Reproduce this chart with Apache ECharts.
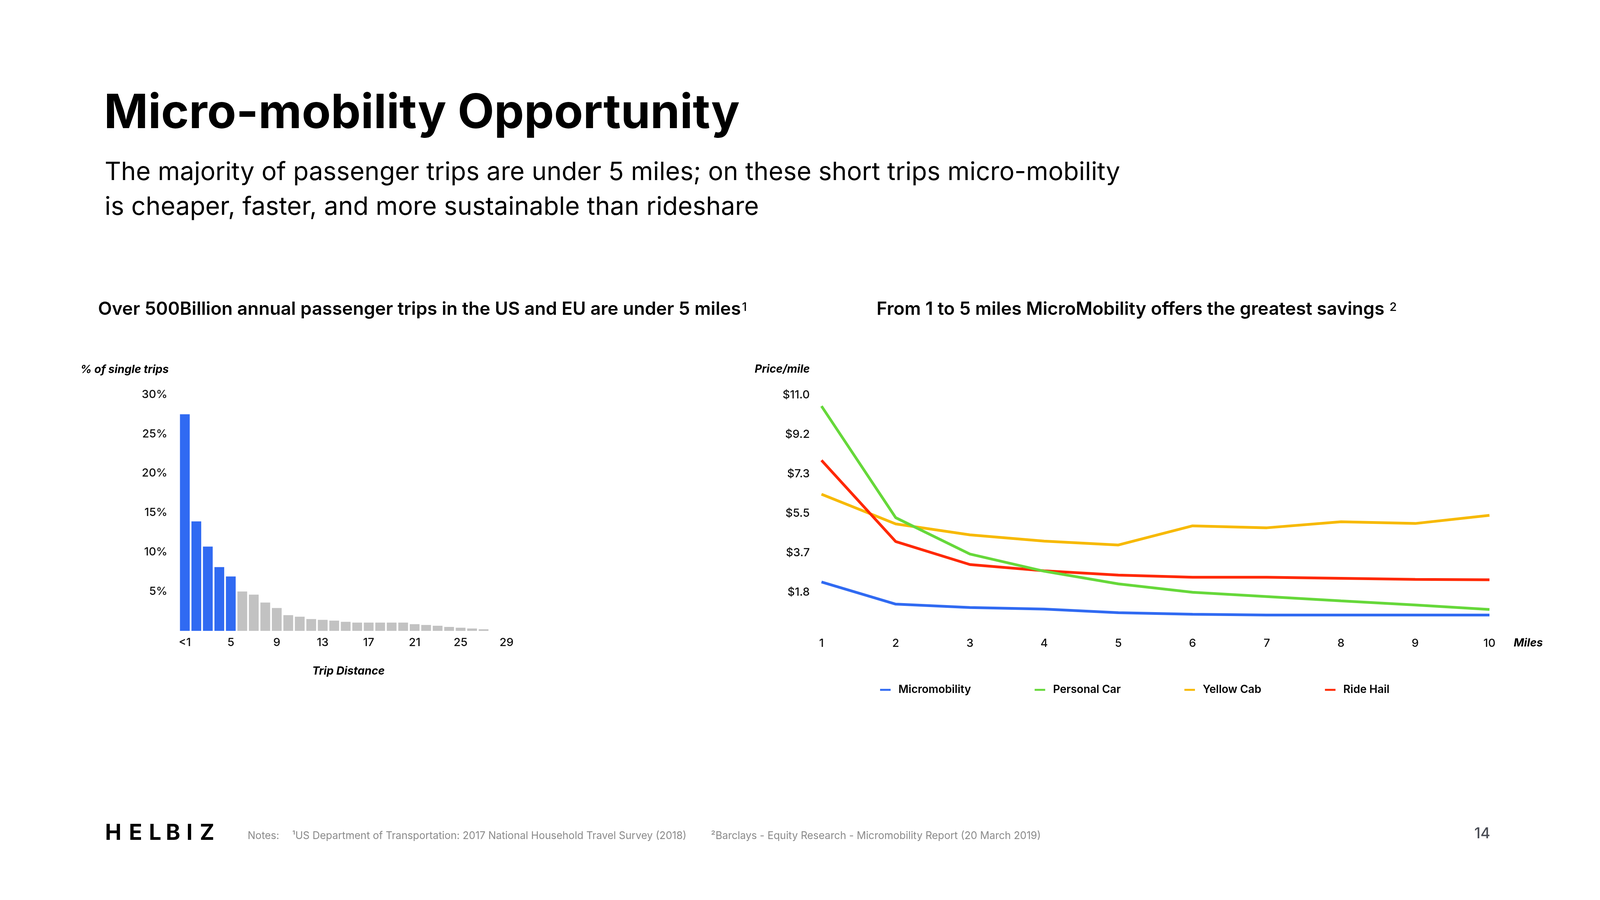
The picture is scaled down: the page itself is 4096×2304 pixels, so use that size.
<!DOCTYPE html>
<html><head><meta charset="utf-8">
<style>html,body{margin:0;padding:0;background:#fff}#c{width:4096px;height:2304px}</style>
<script src="https://cdn.jsdelivr.net/npm/echarts@6/dist/echarts.min.js"></script>
</head><body><div id="c"></div>
<script>
// ---------- data ----------
const tripCategories = ['<1','2','3','4','5','6','7','8','9','10','11','12','13','14','15','16','17','18','19','20','21','22','23','24','25','26','27','28','29'];
const tripShare = [27.5, 13.9, 10.7, 8.1, 6.9, 5.0, 4.6, 3.6, 2.9, 2.0, 1.8, 1.5, 1.4, 1.3, 1.15, 1.05, 1.05, 1.05, 1.05, 1.05, 0.85, 0.75, 0.65, 0.5, 0.4, 0.3, 0.2, null, null];
const highlightedTrips = 5; // first five categories (under 5 miles) in blue

const milesCategories = ['1','2','3','4','5','6','7','8','9','10'];
const micromobility = [2.31, 1.28, 1.12, 1.05, 0.88, 0.81, 0.77, 0.77, 0.77, 0.77];
const personalCar   = [10.49, 5.30, 3.61, 2.81, 2.22, 1.83, 1.63, 1.43, 1.24, 1.03];
const yellowCab     = [6.39, 5.01, 4.50, 4.21, 4.03, 4.92, 4.83, 5.11, 5.03, 5.41];
const rideHail      = [7.97, 4.19, 3.12, 2.83, 2.63, 2.53, 2.53, 2.48, 2.43, 2.41];
const seriesNames = ['Micromobility','Personal Car','Yellow Cab','Ride Hail'];

const pctAxisMax = 30, pctAxisInterval = 5;
const priceAxisMax = 11, priceAxisInterval = 11/6;

const titleText = 'Micro-mobility Opportunity';
const subtitle1 = 'The majority of passenger trips are under 5 miles; on these short trips micro-mobility';
const subtitle2 = 'is cheaper, faster, and more sustainable than rideshare';
const leftTitle = 'Over 500Billion annual passenger trips in the US and EU are under 5 miles';
const rightTitle = 'From 1 to 5 miles MicroMobility offers the greatest savings';
const note0 = 'Notes:';
const note1 = '\u00B9US Department of Transportation: 2017 National Household Travel Survey (2018)';
const note2 = '\u00B2Barclays - Equity Research - Micromobility Report (20 March 2019)';

// ---------- styling ----------
const FONT = 'Inter, "Noto Sans", Roboto, sans-serif';
const BLUE = '#306AF2', GREEN = '#66D83A', YELLOW = '#F7B900', RED = '#FF2800', GRAY = '#C2C2C2';
const ctx = document.createElement('canvas').getContext('2d');
function measure(t, size, weight, style) { ctx.font = (style||'normal') + ' ' + weight + ' ' + size + 'px Inter'; return ctx.measureText(t).width; }
function fit(t, weight, target, style) { return 100 * target / measure(t, 100, weight, style); }

function txt(str, x, y, size, weight, extra) {
  return { type: 'text', x: x, y: y, silent: true, z: 10,
    style: Object.assign({ text: str, fontSize: size, fontWeight: weight, fontFamily: FONT, fill: '#000',
      align: 'left', verticalAlign: 'middle', textAlign: 'left', textVerticalAlign: 'middle' }, extra || {}) };
}

const titleSize = fit(titleText, 700, 1628);
const subSize = fit(subtitle1, 400, 2600);
const secSize = (fit(leftTitle, 600, 1649) + fit(rightTitle, 600, 1298)) / 2;
const noteSize = fit(note1, 400, 1010);
const supSize = 30;
const axisNameSize = 28.5;

const leftX = 251, rightX = 2244;
const graphics = [
  txt(titleText, 266, 291, titleSize, 700),
  txt(subtitle1, 268, 442, subSize, 400),
  txt(subtitle2, 268, 531, subSize, 400),
  txt(leftTitle, leftX, 792, secSize, 600),
  txt('1', leftX + measure(leftTitle, secSize, 600) + 3, 787, supSize, 500),
  txt(rightTitle, rightX, 792, secSize, 600),
  txt('2', rightX + measure(rightTitle, secSize, 600) + 13, 787, supSize, 500),
  txt('% of single trips', 432, 946, axisNameSize, 700, { fontStyle: 'italic', align: 'right', textAlign: 'right' }),
  txt('Trip Distance', 892, 1718, axisNameSize, 700, { fontStyle: 'italic', align: 'center', textAlign: 'center' }),
  txt('Price/mile', 2073, 945, axisNameSize, 700, { fontStyle: 'italic', align: 'right', textAlign: 'right' }),
  txt('Miles', 3875, 1646, axisNameSize, 700, { fontStyle: 'italic' }),
  txt(note0, 634, 2140, noteSize, 400, { fill: '#8a8a8a' }),
  txt(note1, 748, 2140, noteSize, 400, { fill: '#8a8a8a' }),
  txt(note2, 1820, 2140, noteSize, 400, { fill: '#8a8a8a' }),
  txt('14', 3815, 2135, 38, 500, { fill: '#4a4d55', align: 'right', textAlign: 'right' })
];
const logoLetters = ['H','E','L','B','I','Z'];
const logoCenters = [290, 347, 397, 443, 485, 530];
logoLetters.forEach(function (l, i) {
  graphics.push(txt(l, logoCenters[i], 2133, 56, 700, { align: 'center', textAlign: 'center' }));
});

const axisLabelStyle = { fontFamily: FONT, fontSize: 29, fontWeight: 500, color: '#111' };

const chart = echarts.init(document.getElementById('c'), null, { renderer: 'canvas', width: 4096, height: 2304 });
chart.setOption({
  backgroundColor: '#fff',
  animation: false,
  textStyle: { fontFamily: FONT },
  grid: [
    { left: 458.5, top: 1010, width: 853, height: 605 },
    { left: 2103, top: 1011.5, width: 1710, height: 605.5 }
  ],
  xAxis: [
    { type: 'category', gridIndex: 0, data: tripCategories, boundaryGap: true,
      axisLine: { show: false }, axisTick: { show: false },
      axisLabel: Object.assign({ interval: 3, margin: 16 }, axisLabelStyle) },
    { type: 'category', gridIndex: 1, data: milesCategories, boundaryGap: false,
      axisLine: { show: false }, axisTick: { show: false },
      axisLabel: Object.assign({ interval: 0, margin: 16 }, axisLabelStyle) }
  ],
  yAxis: [
    { type: 'value', gridIndex: 0, min: 0, max: pctAxisMax, interval: pctAxisInterval,
      axisLine: { show: false }, axisTick: { show: false }, splitLine: { show: false },
      axisLabel: Object.assign({ margin: 30, formatter: function (v) { return v === 0 ? '' : v + '%'; } }, axisLabelStyle) },
    { type: 'value', gridIndex: 1, min: 0, max: priceAxisMax, interval: priceAxisInterval,
      axisLine: { show: false }, axisTick: { show: false }, splitLine: { show: false },
      axisLabel: Object.assign({ margin: 30, formatter: function (v) { return v < 0.01 ? '' : '$' + v.toFixed(1); } }, axisLabelStyle) }
  ],
  legend: {
    left: 2253, top: 1752, padding: 0, itemGap: 163, itemWidth: 27, itemHeight: 5, icon: 'rect',
    data: seriesNames,
    textStyle: { fontFamily: FONT, fontSize: 28, fontWeight: 600, color: '#000', padding: [0, 0, 0, 15] }
  },
  series: [
    { type: 'bar', xAxisIndex: 0, yAxisIndex: 0, data: tripShare, barCategoryGap: '15%',
      itemStyle: { color: function (p) { return p.dataIndex < highlightedTrips ? BLUE : GRAY; } } },
    { name: seriesNames[0], type: 'line', xAxisIndex: 1, yAxisIndex: 1, data: micromobility, symbol: 'none', z: 3,
      lineStyle: { width: 7, color: BLUE }, itemStyle: { color: BLUE } },
    { name: seriesNames[1], type: 'line', xAxisIndex: 1, yAxisIndex: 1, data: personalCar, symbol: 'none', z: 6,
      lineStyle: { width: 7, color: GREEN }, itemStyle: { color: GREEN } },
    { name: seriesNames[2], type: 'line', xAxisIndex: 1, yAxisIndex: 1, data: yellowCab, symbol: 'none', z: 4,
      lineStyle: { width: 7, color: YELLOW }, itemStyle: { color: YELLOW } },
    { name: seriesNames[3], type: 'line', xAxisIndex: 1, yAxisIndex: 1, data: rideHail, symbol: 'none', z: 5,
      lineStyle: { width: 7, color: RED }, itemStyle: { color: RED } }
  ],
  graphic: graphics
});
</script></body></html>
